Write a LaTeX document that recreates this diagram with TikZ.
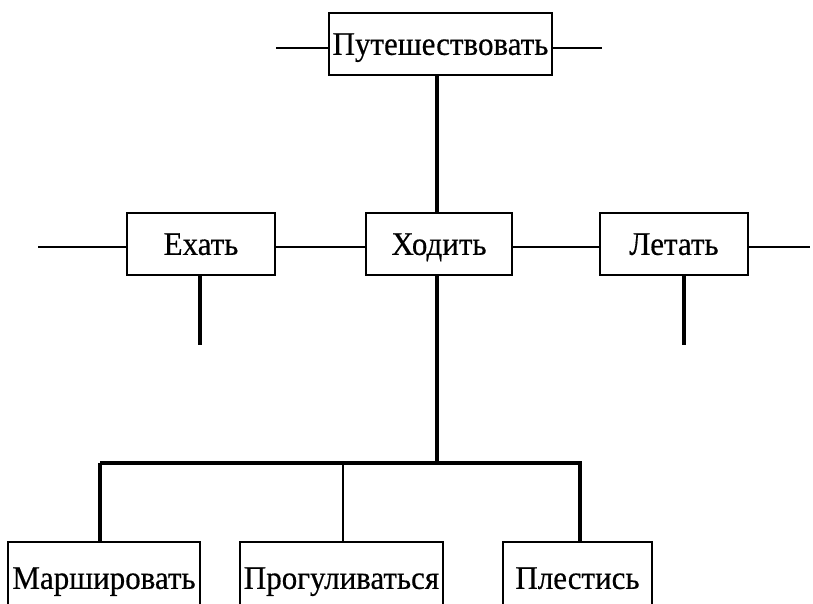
\documentclass[tikz,border=0pt]{standalone}
\usepackage{fontspec}
\setmainfont{Liberation Serif}[FakeStretch=0.94,FakeBold=0.4]
\begin{document}
\begin{tikzpicture}[x=1pt,y=-1pt,
  box/.style={draw,line width=1.4pt,inner sep=0pt,text height=21.8pt,text depth=0pt,font=\fontsize{33}{38}\selectfont},
  thin/.style={line width=1.8pt},
  thick/.style={line width=4pt},
  mid/.style={line width=2.8pt}]
\useasboundingbox (0,0) rectangle (813,603);
\clip (0,0) rectangle (813,603);
\fill[white] (0,0) rectangle (813,603);
% nodes
\node[box,minimum width=223pt,minimum height=62pt] (top) at (440.5,44) {Путешествовать};
\node[box,minimum width=148pt,minimum height=62pt] (exat) at (201,244) {Ехать};
\node[box,minimum width=146pt,minimum height=62pt] (hodit) at (439,244) {Ходить};
\node[box,minimum width=148pt,minimum height=62pt] (letat) at (674,244) {Летать};
\node[box,minimum width=192pt,minimum height=72pt] (march) at (104,578) {Маршировать};
\node[box,minimum width=203pt,minimum height=72pt] (prog) at (341.5,578) {Прогуливаться};
\node[box,minimum width=149pt,minimum height=72pt] (plest) at (577.5,578) {Плестись};
% free ends
\coordinate (tl) at (276,48);
\coordinate (tr) at (602,48);
\coordinate (el) at (38,247);
\coordinate (lr) at (810,247);
\coordinate (ed) at (200,345);
\coordinate (ld) at (684,345);
\coordinate (bus) at (437,463);
% connectors
\draw[thin] (tl) -- (tl -| top.west);
\draw[thin] (tr -| top.east) -- (tr);
\draw[thick] (top.south -| bus) -- (hodit.north -| bus);
\draw[thin] (el) -- (el -| exat.west);
\draw[thin] (exat.east |- el) -- (hodit.west |- el);
\draw[thin] (hodit.east |- el) -- (letat.west |- el);
\draw[thin] (letat.east |- lr) -- (lr);
\draw[thick] (exat.south -| ed) -- (ed);
\draw[thick] (letat.south -| ld) -- (ld);
\draw[thick] (hodit.south -| bus) -- (bus);
\draw[thick] (100,463) -- (582,463);
\draw[thick] (100,463) -- (march.north -| 100,0);
\draw[mid] (343,463) -- (prog.north -| 343,0);
\draw[thick] (580,463) -- (plest.north -| 580,0);
\end{tikzpicture}
\end{document}
